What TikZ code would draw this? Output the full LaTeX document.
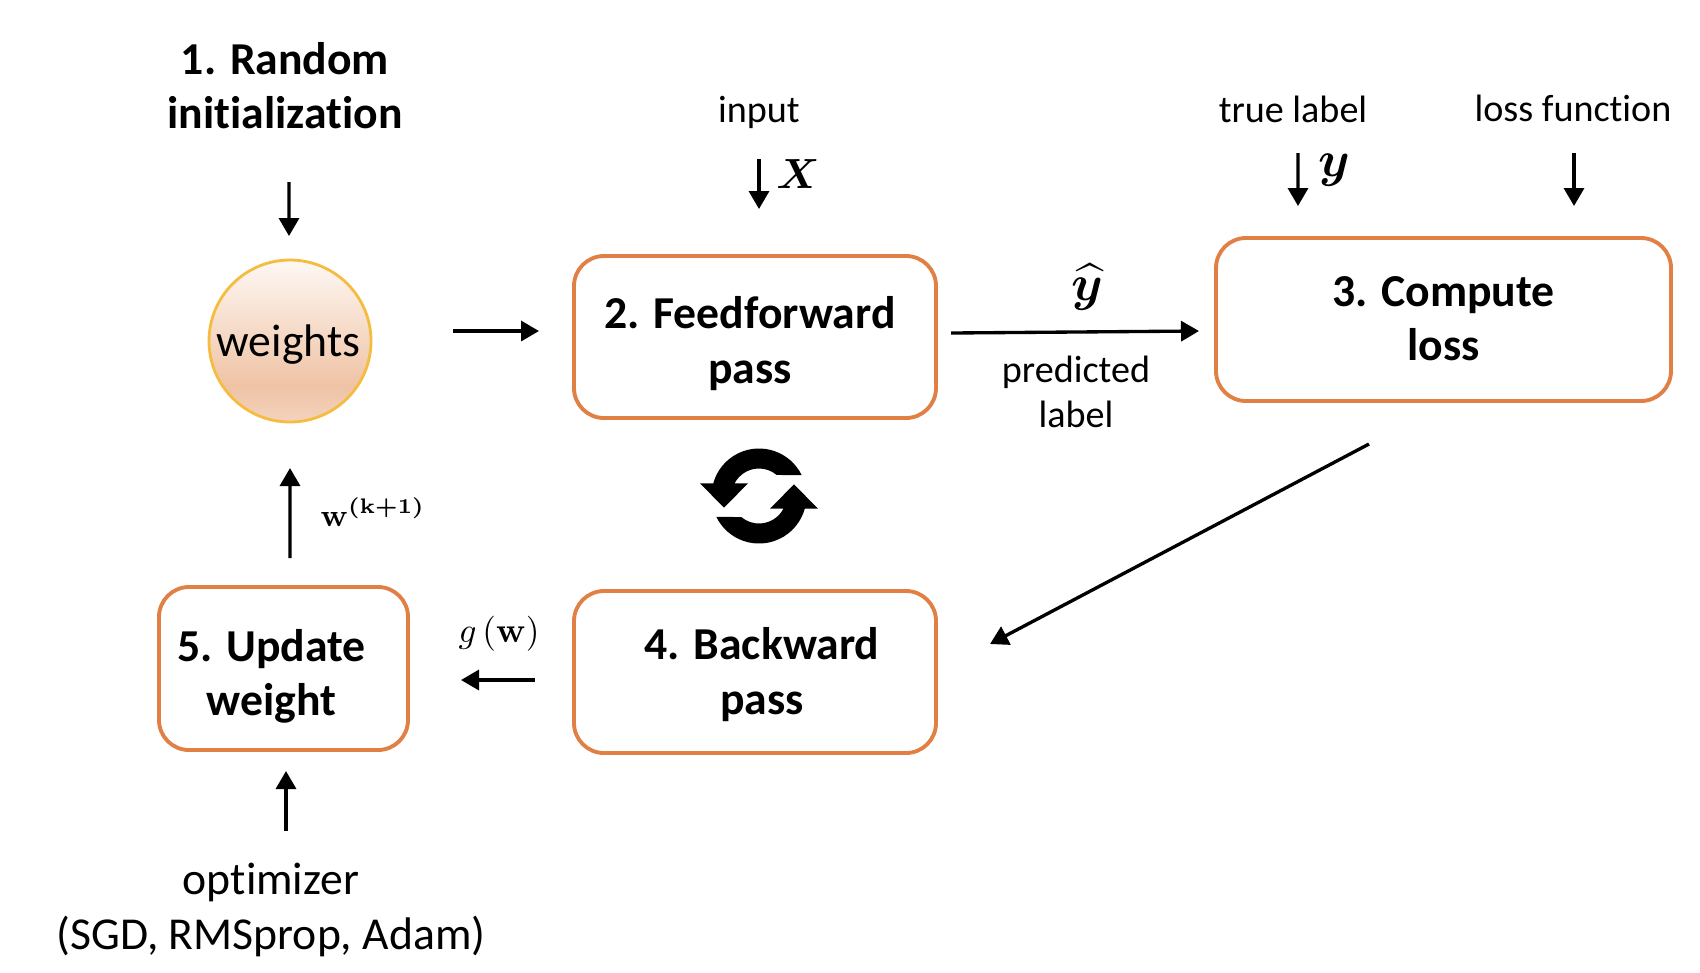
\documentclass[tikz,border=0pt]{standalone}
\usepackage{amsmath,amssymb}
\usepackage[no-math]{fontspec}
\setmainfont[Ligatures=NoCommon]{Carlito}
\usepackage{tikz}
\usetikzlibrary{arrows.meta}
\definecolor{boxorange}{HTML}{E08044}
\definecolor{ringgold}{HTML}{F5BC3F}
\definecolor{shadelow}{HTML}{F3D3BE}
\definecolor{shademid}{HTML}{EFC3A5}
\definecolor{shadetop}{HTML}{FEF8F4}
\pgfdeclareverticalshading{weightfill}{100bp}{color(0bp)=(shadelow); color(25bp)=(shadelow); color(36bp)=(shademid); color(75bp)=(shadetop); color(100bp)=(shadetop)}

\begin{document}
\begin{tikzpicture}[
  stepbox/.style={draw=boxorange,line width=1.1pt,rounded corners=.3cm,align=center,font=\fontsize{13}{15.4}\selectfont\bfseries,inner sep=0pt},
  bigtext/.style={align=center,font=\fontsize{13}{15.4}\selectfont,inner sep=0pt},
  smalltext/.style={align=center,font=\fontsize{10.85}{12.8}\selectfont,inner sep=0pt},
  flow/.style={line width=.95pt,-{Triangle[length=.18cm,width=.2cm]}}
]
\useasboundingbox (0,0) rectangle (17,-9.72);
%% ─── Step boxes ─────────────────────────────────────────────────────────────
\node[circle,draw=ringgold,line width=.8pt,shading=weightfill,minimum size=1.62cm,inner sep=0pt,text depth=0cm,font=\fontsize{13}{15.4}\selectfont] (weights) at (2.90,-3.41) {\hspace*{-.03cm}weights};
\node[stepbox,minimum width=3.62cm,minimum height=1.62cm,text depth=0cm] (feedforward) at (7.55,-3.37)
  {\rule{0pt}{.38cm}\hspace*{-.1cm}2. Feedforward\\\hspace*{-.1cm}pass};
\node[stepbox,minimum width=4.55cm,minimum height=1.63cm,text depth=.02cm] (compute) at (14.435,-3.195)
  {3. Compute\\loss};
\node[stepbox,minimum width=3.62cm,minimum height=1.62cm,text depth=.02cm] (backward) at (7.55,-6.72)
  {\hspace*{.14cm}4. Backward\\\hspace*{.14cm}pass};
\node[stepbox,minimum width=2.49cm,minimum height=1.63cm,text depth=0cm] (update) at (2.835,-6.685)
  {\rule{0pt}{.40cm}\hspace*{-.24cm}5. Update\\\hspace*{-.24cm}weight};
%% ─── Text around the boxes ──────────────────────────────────────────────────
\node[bigtext,font=\fontsize{13}{15.4}\selectfont\bfseries] (init) at (2.85,-.86) {1. Random\\initialization};
\node[smalltext] (input) at (7.59,-1.12) {input};
\node[smalltext] (truelabel) at (12.93,-1.09) {true label};
\node[smalltext] (lossfn) at (15.73,-1.08) {loss function};
\node[bigtext] (optimizer) at (2.71,-9.10) {optimizer\\(SGD, RMSprop, Adam)};
\node[smalltext] (predicted) at (10.76,-3.92) {predicted\\label};
\node[inner sep=0pt,font=\fontsize{11.5}{14}\selectfont] (xvec) at (7.98,-1.74) {$\boldsymbol{X}$};
\node[inner sep=0pt,font=\fontsize{15}{17}\selectfont] (yvec) at (13.34,-1.70) {$\boldsymbol{y}$};
\node[inner sep=0pt,font=\fontsize{14}{16}\selectfont] (yhat) at (10.87,-2.87) {$\boldsymbol{\widehat{y}}$};
\node[inner sep=0pt,font=\fontsize{10}{12}\selectfont] (grad) at (4.99,-6.34) {$g\,(\mathbf{w})$};
\node[inner sep=0pt,font=\fontsize{8.8}{11}\selectfont] (wnext) at (3.73,-5.12) {$\boldsymbol{\mathbf{w}^{(\mathbf{k+1})}}$};
%% ─── Connectors ─────────────────────────────────────────────────────────────
\draw[flow] ([xshift=.04cm,yshift=-.96cm]init.center) -- ([xshift=-.01cm,yshift=1.05cm]weights.center);
\draw[flow] ([shift={(1.63,.10)}]weights.center) -- ([shift={(-2.16,.06)}]feedforward.center);
\draw[flow] ([yshift=-.47cm]input.center) -- ([shift={(.04,1.28)}]feedforward.center);
\draw[flow] ([shift={(1.96,.04)}]feedforward.center) -- ([shift={(-2.445,-.115)}]compute.center);
\draw[flow] ([shift={(.05,-.44)}]truelabel.center) -- ([shift={(-1.455,1.135)}]compute.center);
\draw[flow] ([shift={(.01,-.45)}]lossfn.center) -- ([shift={(1.305,1.135)}]compute.center);
\draw[flow] ([shift={(-.745,-1.245)}]compute.center) -- ([shift={(2.35,.28)}]backward.center);
\draw[flow] ([shift={(-2.20,-.08)}]backward.center) -- ([shift={(1.775,-.115)}]update.center);
\draw[flow] ([shift={(.065,1.105)}]update.center) -- ([yshift=-1.27cm]weights.center);
\draw[flow] ([shift={(.15,.79)}]optimizer.center) -- ([shift={(.025,-1.025)}]update.center);
%% ─── Loop symbol ────────────────────────────────────────────────────────────
\foreach \a in {0,180} {
  \begin{scope}[shift={(7.59,-4.96)},rotate=\a]
    \fill (26:.475) arc[start angle=26,end angle=164.5,radius=.475]
      -- (-.59,.127) -- (-.35,-.117) -- (-.11,.127) -- (152.5:.275)
      arc[start angle=152.5,end angle=50,radius=.275] -- cycle;
  \end{scope}
}
\end{tikzpicture}
\end{document}
